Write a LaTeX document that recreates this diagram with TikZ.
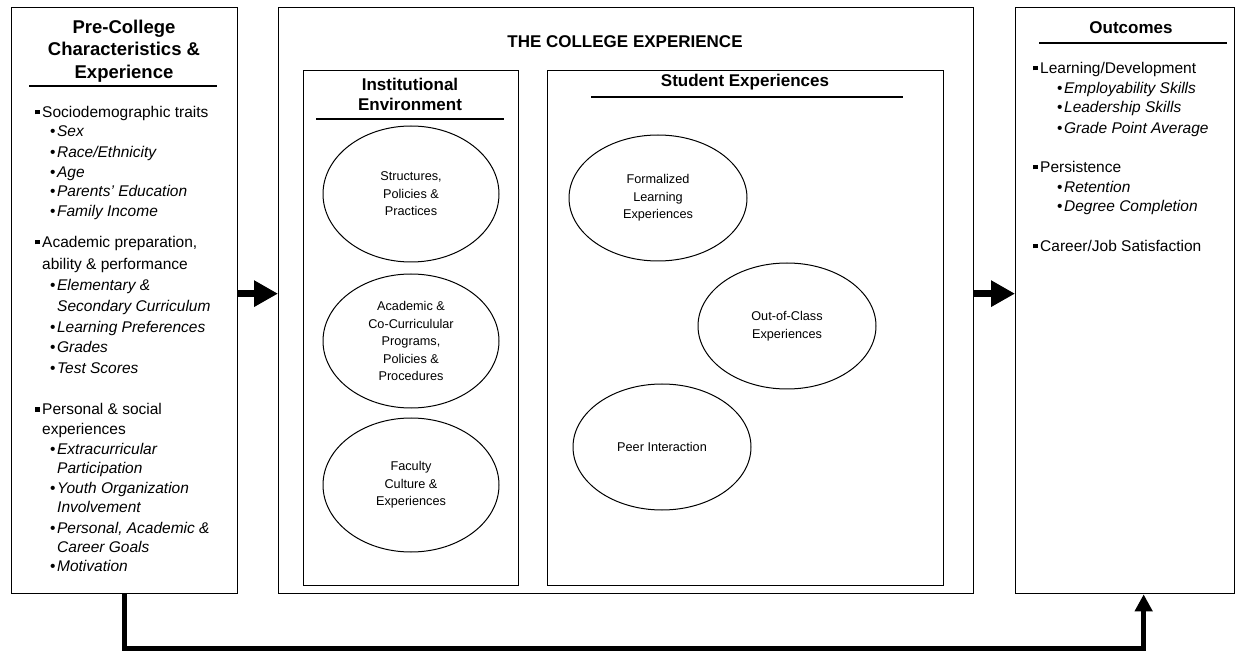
\documentclass[tikz,border=0pt]{standalone}
\usepackage{fontspec}
\setmainfont{Liberation Sans}
\usetikzlibrary{shapes.geometric,arrows.meta}
\newcommand{\sqb}{\rule[3pt]{4.5pt}{4.5pt}\hspace{2.5pt}}
\newcommand{\rbul}{{\upshape•}\hspace{1.5pt}}
\begin{document}
\begin{tikzpicture}[x=1pt,y=-1pt,
  box/.style={draw, line width=1.3pt, anchor=north west, inner sep=0},
  oval/.style={draw, ellipse, line width=1pt, inner sep=0, align=center, font=\fontsize{12.7}{17.5}\selectfont},
  head/.style={align=center, font=\bfseries\fontsize{17}{20}\selectfont, inner sep=0},
  bighead/.style={align=center, font=\bfseries\fontsize{18.5}{22.5}\selectfont, inner sep=0},
  uline/.style={line width=2.2pt},
  item/.style={anchor=base west, inner sep=0, font=\fontsize{15.5}{19}\selectfont},
  sub/.style={item, font=\fontsize{15.5}{19}\selectfont\itshape},
  bigarrow/.style={line width=7pt, -{Triangle[length=24pt,width=25pt]}},
  retarrow/.style={line width=5pt, -{Triangle[length=17pt,width=17pt]}}
]
\useasboundingbox (0,0) rectangle (1235,660);
% main boxes
\node[box, minimum width=226pt, minimum height=586pt] (pre) at (11,7) {};
\node[box, minimum width=695pt, minimum height=586pt] (col) at (278,7) {};
\node[box, minimum width=219pt, minimum height=586pt] (out) at (1015,7) {};
\node[box, minimum width=215pt, minimum height=515pt] (inst) at (303,70) {};
\node[box, minimum width=396pt, minimum height=515pt] (stud) at (547,70) {};

% left box
\node[bighead] (preh) at (124,51) {Pre-College\\Characteristics \&\\Experience};
\draw[uline] (29,86) -- (217,86);
\node[item] (p1) at (35,117.5) {\sqb Sociodemographic traits};
\node[sub] (p2) at (50,136.5) {\rbul Sex};
\node[sub] (p3) at (50,157.5) {\rbul Race/Ethnicity};
\node[sub] (p4) at (50,177.5) {\rbul Age};
\node[sub] (p5) at (50,196.5) {\rbul Parents’ Education};
\node[sub] (p6) at (50,216.5) {\rbul Family Income};
\node[item] (p7) at (35,247.5) {\sqb Academic preparation,};
\node[item] (p8) at (42,269.5) {ability \& performance};
\node[sub] (p9) at (50,290.5) {\rbul Elementary \&};
\node[sub] (p10) at (57,311.5) {Secondary Curriculum};
\node[sub] (p11) at (50,332.5) {\rbul Learning Preferences};
\node[sub] (p12) at (50,352.5) {\rbul Grades};
\node[sub] (p13) at (50,373.5) {\rbul Test Scores};
\node[item] (p14) at (35,414.5) {\sqb Personal \& social};
\node[item] (p15) at (42,434.5) {experiences};
\node[sub] (p16) at (50,454.5) {\rbul Extracurricular};
\node[sub] (p17) at (57,473.5) {Participation};
\node[sub] (p18) at (50,493.5) {\rbul Youth Organization};
\node[sub] (p19) at (57,512.5) {Involvement};
\node[sub] (p20) at (50,533.5) {\rbul Personal, Academic \&};
\node[sub] (p21) at (57,552.5) {Career Goals};
\node[sub] (p22) at (50,571.5) {\rbul Motivation};

% center
\node[head] (colh) at (625,42) {THE COLLEGE EXPERIENCE};
\node[head] (insth) at (410,94) {Institutional\\Environment};
\draw[uline] (316,119) -- (504,119);
\node[head] (studh) at (745,82) {Student Experiences};
\draw[uline] (591,97) -- (903,97);

\node[oval, minimum width=176pt, minimum height=136pt] (e1) at (411,194) {Structures,\\Policies \&\\Practices};
\node[oval, minimum width=176pt, minimum height=134pt] (e2) at (411,341) {Academic \&\\Co-Curriculular\\Programs,\\Policies \&\\Procedures};
\node[oval, minimum width=176pt, minimum height=134pt] (e3) at (411,485) {Faculty\\Culture \&\\Experiences};

\node[oval, minimum width=178pt, minimum height=126pt] (s1) at (658,198) {Formalized\\Learning\\Experiences};
\node[oval, minimum width=178pt, minimum height=126pt] (s2) at (787,326) {Out-of-Class\\Experiences};
\node[oval, minimum width=178pt, minimum height=126pt] (s3) at (662,447) {Peer Interaction};

% right box
\node[head] (outh) at (1131,28) {Outcomes};
\draw[uline] (1039,43) -- (1227,43);
\node[item] (o1) at (1033,73.5) {\sqb Learning/Development};
\node[sub] (o2) at (1057,93.5) {\rbul Employability Skills};
\node[sub] (o3) at (1057,112.5) {\rbul Leadership Skills};
\node[sub] (o4) at (1057,133.5) {\rbul Grade Point Average};
\node[item] (o5) at (1033,172.5) {\sqb Persistence};
\node[sub] (o6) at (1057,192.5) {\rbul Retention};
\node[sub] (o7) at (1057,211.5) {\rbul Degree Completion};
\node[item] (o8) at (1033,251.5) {\sqb Career/Job Satisfaction};

% connectors
\draw[bigarrow] ([yshift=7pt]pre.east) -- ([yshift=7pt]col.west);
\draw[bigarrow] ([yshift=7pt]col.east) -- ([yshift=7pt]out.west);
\coordinate (low) at (0,648);
\draw[retarrow] (pre.south) -- (pre.south |- low) -| ([xshift=18.5pt]out.south);
\end{tikzpicture}
\end{document}
